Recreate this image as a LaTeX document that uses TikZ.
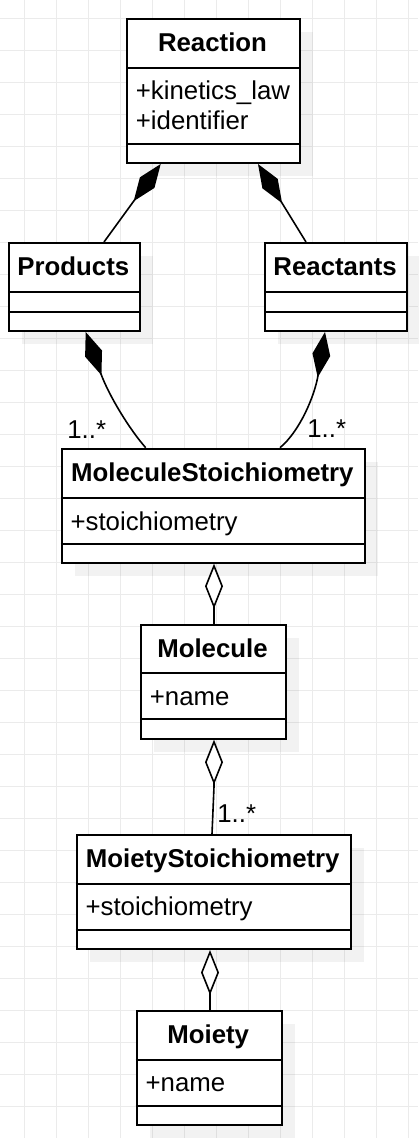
\documentclass[tikz,border=0pt]{standalone}
\usepackage{fontspec}
\setmainfont{Liberation Sans}
\usetikzlibrary{arrows.meta}
\definecolor{gridc}{RGB}{235,235,235}
\begin{document}
\begin{tikzpicture}[x=1pt,y=-1pt,
 classbox/.style={draw, line width=2pt, rectangle, inner sep=0pt, anchor=north west, fill=white},
 divider/.style={line width=2pt},
 shadowbox/.style={fill=black, fill opacity=0.05},
 title/.style={anchor=base, inner sep=0pt, font={\fontsize{25.8}{30}\selectfont\bfseries}},
 attr/.style={anchor=base west, inner sep=0pt, font={\fontsize{25.8}{30}\selectfont}},
 comp/.style={line width=1.6pt, -{Diamond[length=46pt,width=18pt]}},
 agg/.style={line width=1.6pt, -{Diamond[length=45pt,width=18pt,fill=white]}},
]
\useasboundingbox (0,0) rectangle (418,1138);
\fill[white] (0,0) rectangle (418,1138);
\foreach \i in {0,...,12} \draw[gridc, line width=1pt] (24.3+32*\i,0) -- (24.3+32*\i,1138);
\foreach \j in {0,...,35} \draw[gridc, line width=1pt] (0,18+32*\j) -- (418,18+32*\j);

% Reaction
\fill[shadowbox] (140,32) rectangle ++(173,144);
\node[classbox, minimum width=173pt, minimum height=144pt] (reac) at (126,18) {};
\draw[divider] ([yshift=-50pt]reac.north west) -- ([yshift=-50pt]reac.north east);
\draw[divider] ([yshift=-126pt]reac.north west) -- ([yshift=-126pt]reac.north east);
\node[title] (reacT) at (212.5,51.9) {Reaction};
\node[attr] (reacA1) at (135.7,99) {+kinetics\_law};
\node[attr] (reacA2) at (135.7,129) {+identifier};

% Products
\fill[shadowbox] (22,256) rectangle ++(130.7,88);
\node[classbox, minimum width=130.7pt, minimum height=88pt] (prod) at (8,242) {};
\draw[divider] ([yshift=-50pt]prod.north west) -- ([yshift=-50pt]prod.north east);
\draw[divider] ([yshift=-70pt]prod.north west) -- ([yshift=-70pt]prod.north east);
\node[title] (prodT) at (73.35,275.9) {Products};

% Reactants
\fill[shadowbox] (278,256) rectangle ++(142.3,88);
\node[classbox, minimum width=142.3pt, minimum height=88pt] (react) at (264,242) {};
\draw[divider] ([yshift=-50pt]react.north west) -- ([yshift=-50pt]react.north east);
\draw[divider] ([yshift=-70pt]react.north west) -- ([yshift=-70pt]react.north east);
\node[title] (reactT) at (335.15,275.9) {Reactants};

% MoleculeStoichiometry
\fill[shadowbox] (74.7,461.7) rectangle ++(303.3,114);
\node[classbox, minimum width=303.3pt, minimum height=114pt] (ms) at (60.7,447.7) {};
\draw[divider] ([yshift=-50.6pt]ms.north west) -- ([yshift=-50.6pt]ms.north east);
\draw[divider] ([yshift=-96.3pt]ms.north west) -- ([yshift=-96.3pt]ms.north east);
\node[title] (msT) at (212.35,481.9) {MoleculeStoichiometry};
\node[attr] (msA) at (70.4,530.1) {+stoichiometry};

% Molecule
\fill[shadowbox] (154,638) rectangle ++(145,113.7);
\node[classbox, minimum width=145pt, minimum height=113.7pt] (mol) at (140,624) {};
\draw[divider] ([yshift=-49.3pt]mol.north west) -- ([yshift=-49.3pt]mol.north east);
\draw[divider] ([yshift=-95.3pt]mol.north west) -- ([yshift=-95.3pt]mol.north east);
\node[title] (molT) at (212.5,657.6) {Molecule};
\node[attr] (molA) at (149.7,705.2) {+name};

% MoietyStoichiometry
\fill[shadowbox] (89.7,848) rectangle ++(274,114);
\node[classbox, minimum width=274pt, minimum height=114pt] (mst) at (75.7,834) {};
\draw[divider] ([yshift=-49.7pt]mst.north west) -- ([yshift=-49.7pt]mst.north east);
\draw[divider] ([yshift=-95.7pt]mst.north west) -- ([yshift=-95.7pt]mst.north east);
\node[title] (mstT) at (212.7,867.8) {MoietyStoichiometry};
\node[attr] (mstA) at (85.4,915.6) {+stoichiometry};

% Moiety
\fill[shadowbox] (149.7,1024) rectangle ++(145,114);
\node[classbox, minimum width=145pt, minimum height=114pt] (moi) at (135.7,1010) {};
\draw[divider] ([yshift=-50pt]moi.north west) -- ([yshift=-50pt]moi.north east);
\draw[divider] ([yshift=-96pt]moi.north west) -- ([yshift=-96pt]moi.north east);
\node[title] (moiT) at (208.2,1043.9) {Moiety};
\node[attr] (moiA) at (145.4,1091.9) {+name};

% connectors
\draw[comp] ([xshift=96pt]prod.north west) -- ([xshift=34.7pt]reac.south west);
\draw[comp] ([xshift=42pt]react.north west) -- ([xshift=132pt]reac.south west);
\draw[comp] ([xshift=85pt]ms.north west) .. controls (130,430) and (109,396) .. ([xshift=77.7pt]prod.south west);
\draw[comp] ([xshift=219.3pt]ms.north west) .. controls (300,431) and (314.8,395.4) .. ([xshift=61pt]react.south west);
\draw[agg] ([xshift=74pt]mol.north west) -- ([xshift=153.3pt]ms.south west);
\draw[agg] ([xshift=136.3pt]mst.north west) -- ([xshift=74pt,yshift=-47pt]mol.south west) -- ([xshift=74pt]mol.south west);
\draw[agg] ([xshift=74.3pt]moi.north west) -- ([xshift=134.3pt]mst.south west);

% multiplicities
\node[attr] (m1) at (67.2,438.3) {1..*};
\node[attr] (m2) at (307.2,437.5) {1..*};
\node[attr] (m3) at (217.2,822.7) {1..*};
\end{tikzpicture}
\end{document}
